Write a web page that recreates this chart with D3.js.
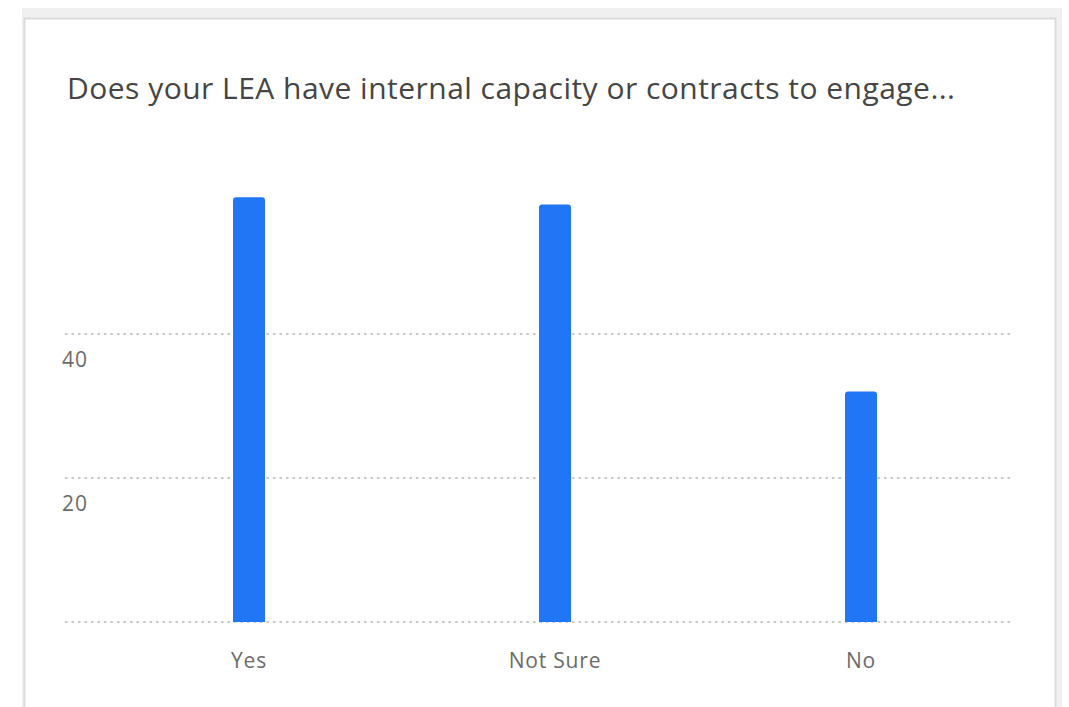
<!DOCTYPE html>
<html>
<head>
<meta charset="utf-8">
<script src="https://cdn.jsdelivr.net/npm/d3@7"></script>
<style>
  body { margin: 0; background: #fff; }
  svg { display: block; }
</style>
</head>
<body>
<svg id="chart" width="1069" height="707"></svg>
<script>
const categories = ["Yes", "Not Sure", "No"];
const values = [59, 58, 32];
const yTicks = [20, 40];
const title = "Does your LEA have internal capacity or contracts to engage...";

const svg = d3.select("#chart");

// page background + card
svg.append("rect").attr("x", 22).attr("y", 8).attr("width", 1040).attr("height", 710).attr("fill", "#f0f0f0");
svg.append("rect").attr("x", 24.5).attr("y", 18.5).attr("width", 1031).attr("height", 700)
    .attr("fill", "#fff").attr("stroke", "#dcdcdc").attr("stroke-width", 2);

svg.append("text")
    .attr("x", 67).attr("y", 99)
    .attr("font-family", "'Open Sans', sans-serif")
    .attr("font-size", 30)
    .attr("fill", "#454545")
    .attr("textLength", 888)
    .attr("lengthAdjust", "spacing")
    .text(title);

const x = d3.scaleBand().domain(categories).range([96, 1014]);
const y = d3.scaleLinear().domain([0, 20]).range([622, 478]);

const grid = svg.append("g");
grid.selectAll("line")
    .data([0].concat(yTicks))
    .join("line")
    .attr("x1", 65).attr("x2", 1012)
    .attr("y1", d => y(d)).attr("y2", d => y(d))
    .attr("stroke", "#c8c8c8")
    .attr("stroke-width", 2)
    .attr("stroke-dasharray", "2.5,4");

svg.append("g").selectAll("text")
    .data(yTicks)
    .join("text")
    .attr("x", 62).attr("y", d => y(d) + 33)
    .attr("font-family", "'Open Sans', sans-serif")
    .attr("font-size", 21)
    .attr("letter-spacing", 1)
    .attr("fill", "#6b6b6b")
    .text(d => d);

const barW = 32;
svg.append("g").selectAll("path")
    .data(values)
    .join("path")
    .attr("fill", "#2176f6")
    .attr("d", (d, i) => {
        const cx = x(categories[i]) + x.bandwidth() / 2;
        const x0 = cx - barW / 2, x1 = cx + barW / 2;
        const top = y(d), bot = y(0), r = 3;
        return `M${x0},${bot}V${top + r}Q${x0},${top} ${x0 + r},${top}H${x1 - r}Q${x1},${top} ${x1},${top + r}V${bot}Z`;
    });

svg.append("g").selectAll("text")
    .data(categories)
    .join("text")
    .attr("x", d => x(d) + x.bandwidth() / 2)
    .attr("y", 668)
    .attr("text-anchor", "middle")
    .attr("font-family", "'Open Sans', sans-serif")
    .attr("font-size", 21)
    .attr("letter-spacing", 0.8)
    .attr("fill", "#6b6b6b")
    .text(d => d);
</script>
</body>
</html>
